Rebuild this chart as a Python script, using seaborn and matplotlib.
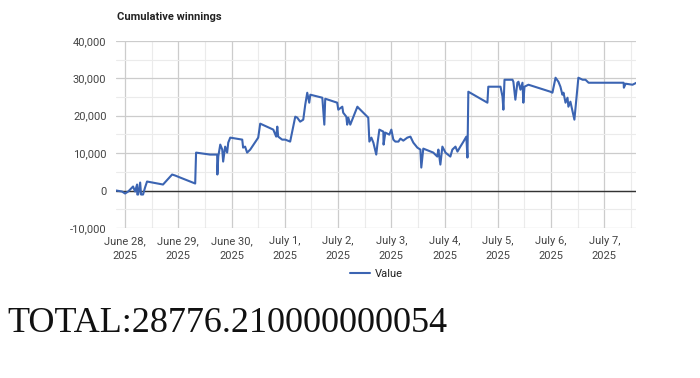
import numpy as np
import pandas as pd
import matplotlib
matplotlib.use("Agg")
import matplotlib.pyplot as plt
import matplotlib.dates as mdates
from matplotlib.ticker import MultipleLocator, FuncFormatter
import seaborn as sns

# ---- data (hours after 2025-06-28 00:00, cumulative value) ----
hours = [-4.0, -1.4, 0.0, 1.4, 3.2, 3.6, 4.5, 5.4, 5.5, 5.9, 6.8, 7.2, 8.1, 9.0, 9.9,
         17.1, 21.2, 22.6, 24.8, 31.6, 32.0, 38.3, 41.5, 41.6, 42.0, 42.9, 43.8, 44.2,
         45.1, 46.0, 46.5, 47.4, 52.8, 53.2, 54.1, 55.0, 56.4, 60.0, 60.9, 66.8, 67.7,
         68.1, 68.6, 69.0, 70.8, 72.2, 74.4, 75.8, 76.7, 77.6, 78.9, 80.3, 81.2, 82.1,
         83.0, 83.5, 88.9, 89.8, 90.2, 95.6, 96.1, 97.9, 98.3, 99.7, 100.1, 100.6, 101.5,
         104.7, 105.1, 109.6, 110.1, 111.0, 111.9, 113.2, 113.7, 114.6, 116.4, 116.5,
         117.3, 119.1, 120.0, 120.9, 121.8, 123.2, 124.1, 125.4, 127.2, 128.6, 129.9,
         131.7, 133.1, 133.5, 134.4, 138.9, 140.7, 141.2, 142.1, 143.0, 144.4, 146.6,
         147.5, 148.9, 149.8, 151.1, 152.5, 153.8, 154.3, 154.7, 163.3, 163.7, 169.2,
         170.1, 170.5, 171.0, 174.6, 175.0, 175.9, 176.8, 177.3, 178.2, 179.1, 179.5,
         180.0, 181.8, 191.7, 192.6, 194.0, 195.3, 196.2, 197.1, 197.6, 198.5, 199.4,
         199.8, 200.7, 202.5, 204.3, 206.2, 207.5, 208.9, 224.7, 224.8, 225.6, 228.7,
         230.4]
values = [0, -270, -800, -270, 800, 1070, -270, 1600, -1070, -1070, 2130, -1070, -1070,
          800, 2400, 1600, 4270, 4000, 3470, 1870, 10130, 9600, 9600, 4270, 9070, 12270,
          10930, 7730, 11730, 10130, 12800, 14130, 13600, 11470, 11730, 10130, 10930,
          14130, 17870, 16270, 14930, 14400, 17070, 14400, 13600, 13600, 13070, 17070,
          19730, 19470, 18400, 18930, 22930, 26130, 23470, 25600, 24800, 17600, 24530,
          23470, 21600, 22400, 20800, 19730, 17600, 19470, 17600, 22400, 22130, 19470,
          13070, 14130, 12800, 9600, 12270, 16270, 15730, 12270, 15470, 14930, 16270,
          13600, 13070, 13070, 13870, 13330, 14130, 14400, 12800, 11470, 10930, 6130,
          11200, 10130, 9070, 10930, 6930, 11730, 10130, 9070, 10930, 11730, 10400,
          11730, 13070, 14400, 8800, 26400, 23470, 27740, 27740, 25070, 21600, 29600,
          29600, 29070, 24270, 28800, 29070, 26940, 28800, 23470, 27740, 28270, 26400,
          26140, 30140, 29070, 27740, 25600, 26140, 23470, 24800, 22400, 23740, 18940,
          30140, 29600, 29600, 28800, 28800, 27470, 28540, 28270, 28776.21]
tick_days = ["2025-06-28", "2025-06-29", "2025-06-30", "2025-07-01", "2025-07-02",
             "2025-07-03", "2025-07-04", "2025-07-05", "2025-07-06", "2025-07-07"]
tick_labels = ["June 28,\n2025", "June 29,\n2025", "June 30,\n2025", "July 1,\n2025",
               "July 2,\n2025", "July 3,\n2025", "July 4,\n2025", "July 5,\n2025",
               "July 6,\n2025", "July 7,\n2025"]
title = "Cumulative winnings"
total_text = "TOTAL:28776.210000000054"

start = pd.Timestamp("2025-06-28")
df = pd.DataFrame({"time": start + pd.to_timedelta(hours, unit="h"), "Value": values})
df["series"] = "Value"

sns.set_style("white")
plt.rcParams["font.family"] = ["Roboto", "DejaVu Sans"]

fig = plt.figure(figsize=(7, 3.78), dpi=100)
ax = fig.add_axes([0.166, 0.397, 0.743, 0.495])

sns.lineplot(data=df, x="time", y="Value", hue="series", palette=["#3b64b2"],
             linewidth=1.5, ax=ax, sort=False, estimator=None)

ax.set_xlim(df["time"].min(), df["time"].max())
ax.set_ylim(-10000, 40000)

# grid
ax.yaxis.set_major_locator(MultipleLocator(10000))
ax.yaxis.set_minor_locator(MultipleLocator(5000))
ticks = [mdates.date2num(pd.Timestamp(d)) for d in tick_days]
ax.set_xticks(ticks)
ax.set_xticklabels(tick_labels)
ax.xaxis.set_minor_locator(mdates.HourLocator(byhour=[12]))
ax.grid(which="major", color="#cccccc", linewidth=0.9)
ax.grid(which="minor", color="#ebebeb", linewidth=0.8)
ax.set_axisbelow(True)
ax.axhline(0, color="#333333", linewidth=1.0, zorder=1.5)
ax.yaxis.set_major_formatter(FuncFormatter(lambda v, p: f"{int(v):,}"))
ax.tick_params(axis="both", which="both", length=0, labelsize=8, labelcolor="#444444")
ax.tick_params(axis="x", pad=6)
ax.tick_params(axis="y", pad=7)
for lbl in ax.get_xticklabels():
    lbl.set_linespacing(1.55)
for s in ax.spines.values():
    s.set_visible(False)
ax.set_xlabel("")
ax.set_ylabel("")

leg = ax.legend(loc="center", bbox_to_anchor=(0.5, -0.246), frameon=False,
                fontsize=8, handlelength=1.8, handletextpad=0.4)
for t in leg.get_texts():
    t.set_color("#222222")

fig.text(0.167, 0.955, title, fontsize=8, fontweight="bold", color="#222222",
         va="center", ha="left")
fig.text(0.011, 0.122, total_text, fontsize=26, family=["Liberation Serif"],
         color="#111111", va="baseline", ha="left")

fig.savefig("out.png", dpi=100, facecolor="white")
